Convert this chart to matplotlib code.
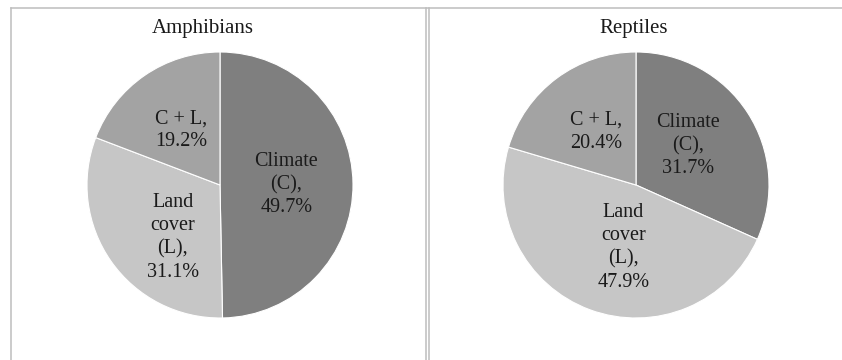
import matplotlib
matplotlib.use("Agg")
import matplotlib.pyplot as plt
from matplotlib.lines import Line2D

plt.rcParams['font.family'] = ['Liberation Serif', 'DejaVu Serif']

panels = ["Amphibians", "Reptiles"]
categories = ["Climate\n(C),", "Land\ncover\n(L),", "C + L,"]
amphibians = [49.7, 31.1, 19.2]
reptiles = [31.7, 47.9, 20.4]
colors = ["#7f7f7f", "#c6c6c6", "#a3a3a3"]

W, H = 842, 360
fig = plt.figure(figsize=(W / 100, H / 100), dpi=100)

def fx(px):
    return px / W

def fy(py):
    return 1 - py / H

# panel borders
border = "#bdbdbd"
lw = 1.1
segs = [
    ((11, 11), (8, 360)),
    ((11, 842), (8, 8)),
    ((426, 426), (8, 360)),
    ((428.5, 428.5), (8, 360)),
]
for xs, ys in segs:
    fig.add_artist(Line2D([fx(x) for x in xs], [fy(y) for y in ys],
                          color=border, linewidth=lw, transform=fig.transFigure))

R = 133
centers = [(220, 185), (636, 185)]
title_x = [203, 634]
datasets = [amphibians, reptiles]
# small label nudges (in pie radius units) to mimic the original placement
nudges = [
    [(0.0, 0.0), (0.055, -0.105), (-0.01, 0.0)],
    [(-0.03, 0.025), (0.08, 0.0), (0.0, 0.0)],
]

for i, (name, vals) in enumerate(zip(panels, datasets)):
    cx, cy = centers[i]
    ax = fig.add_axes([fx(cx - R), fy(cy + R), (2 * R) / W, (2 * R) / H])
    labels = [f"{c}\n{v:.1f}%" for c, v in zip(categories, vals)]
    wedges, texts = ax.pie(vals, colors=colors, startangle=90, counterclock=False,
                           labels=labels, labeldistance=0.5,
                           wedgeprops=dict(edgecolor="white", linewidth=0.8),
                           textprops=dict(fontsize=14.5, color="#1a1a1a",
                                          ha="center", va="center", linespacing=1.3))
    for t, (dx, dy) in zip(texts, nudges[i]):
        t.set_horizontalalignment("center")
        t.set_verticalalignment("center")
        x, y = t.get_position()
        t.set_position((x + dx, y + dy))
    ax.set_xlim(-1, 1)
    ax.set_ylim(-1, 1)
    ax.set_aspect("auto")
    ax.axis("off")
    fig.text(fx(title_x[i]), fy(28), name, ha="center", va="center",
             fontsize=15, color="#1a1a1a")

fig.savefig("out.png", dpi=100, facecolor="white")
